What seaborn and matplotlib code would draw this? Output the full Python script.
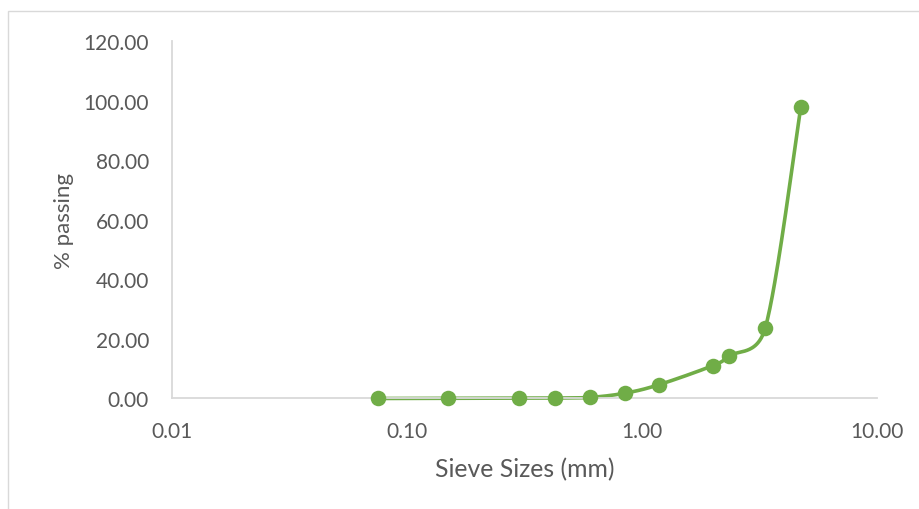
import numpy as np
import pandas as pd
import matplotlib
matplotlib.use("Agg")
import matplotlib.pyplot as plt
from matplotlib.patches import Rectangle
from matplotlib.ticker import FixedLocator, FuncFormatter, NullLocator
import seaborn as sns

# Sieve analysis results
sieve_mm = [0.075, 0.15, 0.30, 0.425, 0.60, 0.85, 1.18, 2.00, 2.36, 3.35, 4.75]
pct_passing = [0.0, 0.05, 0.1, 0.15, 0.35, 1.8, 4.6, 11.0, 14.3, 23.6, 97.8]

x_ticks = [0.01, 0.1, 1.0, 10.0]
y_ticks = [0, 20, 40, 60, 80, 100, 120]

GREEN = "#70AD47"
TEXT = "#595959"
AXIS = "#D9D9D9"

sns.set_theme(style="white")
plt.rcParams["font.family"] = ["Lato", "DejaVu Sans"]

fig = plt.figure(figsize=(9.2, 5.1), dpi=100)
ax = fig.add_axes([0.187, 0.2167, 0.766, 0.701])

ax.set_xscale("log")
ax.set_xlim(0.01, 10)
ax.set_ylim(0, 120)

W_PX, H_PX = 705.0, 357.5


def _clamp_handle(v, rise):
    """Shorten a Bezier handle so it never passes the segment's rise."""
    if rise > 0 and v[1] > rise:
        return v * (rise / v[1])
    return v


def smooth_curve(xs, ys, n=50):
    """Bezier smoothing through the points in display space (log x)."""
    px = (np.log10(xs) + 2.0) / 3.0 * W_PX
    py = np.asarray(ys, dtype=float) / 120.0 * H_PX
    P = np.column_stack([px, py])
    out = [P[0]]
    for i in range(len(P) - 1):
        p0 = P[i - 1] if i > 0 else P[i]
        p1, p2 = P[i], P[i + 1]
        p3 = P[i + 2] if i + 2 < len(P) else P[i + 1]
        rise = p2[1] - p1[1]
        v1 = _clamp_handle((p2 - p0) / 6.0, rise)
        v2 = _clamp_handle((p3 - p1) / 6.0, rise)
        c1, c2 = p1 + v1, p2 - v2
        t = np.linspace(0, 1, n)[1:, None]
        seg = ((1 - t) ** 3) * p1 + 3 * ((1 - t) ** 2) * t * c1 \
            + 3 * (1 - t) * t ** 2 * c2 + t ** 3 * p2
        out.extend(seg)
    out = np.array(out)
    cx = 10 ** (out[:, 0] / W_PX * 3.0 - 2.0)
    cy = out[:, 1] / H_PX * 120.0
    return cx, cy


cx, cy = smooth_curve(sieve_mm, pct_passing)
curve = pd.DataFrame({"size": cx, "passing": cy})
pts = pd.DataFrame({"size": sieve_mm, "passing": pct_passing})

sns.lineplot(data=curve, x="size", y="passing", sort=False, estimator=None,
             color=GREEN, linewidth=2.6, ax=ax, clip_on=False)
sns.scatterplot(data=pts, x="size", y="passing", color=GREEN, s=125,
                edgecolor=GREEN, linewidth=0, ax=ax, clip_on=False, zorder=5)

ax.xaxis.set_major_locator(FixedLocator(x_ticks))
ax.xaxis.set_minor_locator(NullLocator())
ax.xaxis.set_major_formatter(FuncFormatter(lambda v, p: f"{v:.2f}"))
ax.yaxis.set_major_locator(FixedLocator(y_ticks))
ax.yaxis.set_major_formatter(FuncFormatter(lambda v, p: f"{v:.2f}"))

ax.tick_params(axis="both", length=0, labelsize=15, labelcolor=TEXT)
ax.tick_params(axis="x", pad=16)
ax.tick_params(axis="y", pad=16.5)

for side in ["top", "right"]:
    ax.spines[side].set_visible(False)
for side in ["left", "bottom"]:
    ax.spines[side].set_color(AXIS)
    ax.spines[side].set_linewidth(1.3)

ax.set_xlabel("Sieve Sizes (mm)", fontsize=17.8, color=TEXT, labelpad=12)
ax.set_ylabel("% passing", fontsize=16, color=TEXT, labelpad=7)
ax.grid(False)

# chart area frame
fig.patches.append(Rectangle((8 / 920, -0.05), 1.0, 1 - 12 / 510 + 0.05,
                             transform=fig.transFigure, fill=False,
                             edgecolor=AXIS, linewidth=1.0))

fig.savefig("out.png", dpi=100)
